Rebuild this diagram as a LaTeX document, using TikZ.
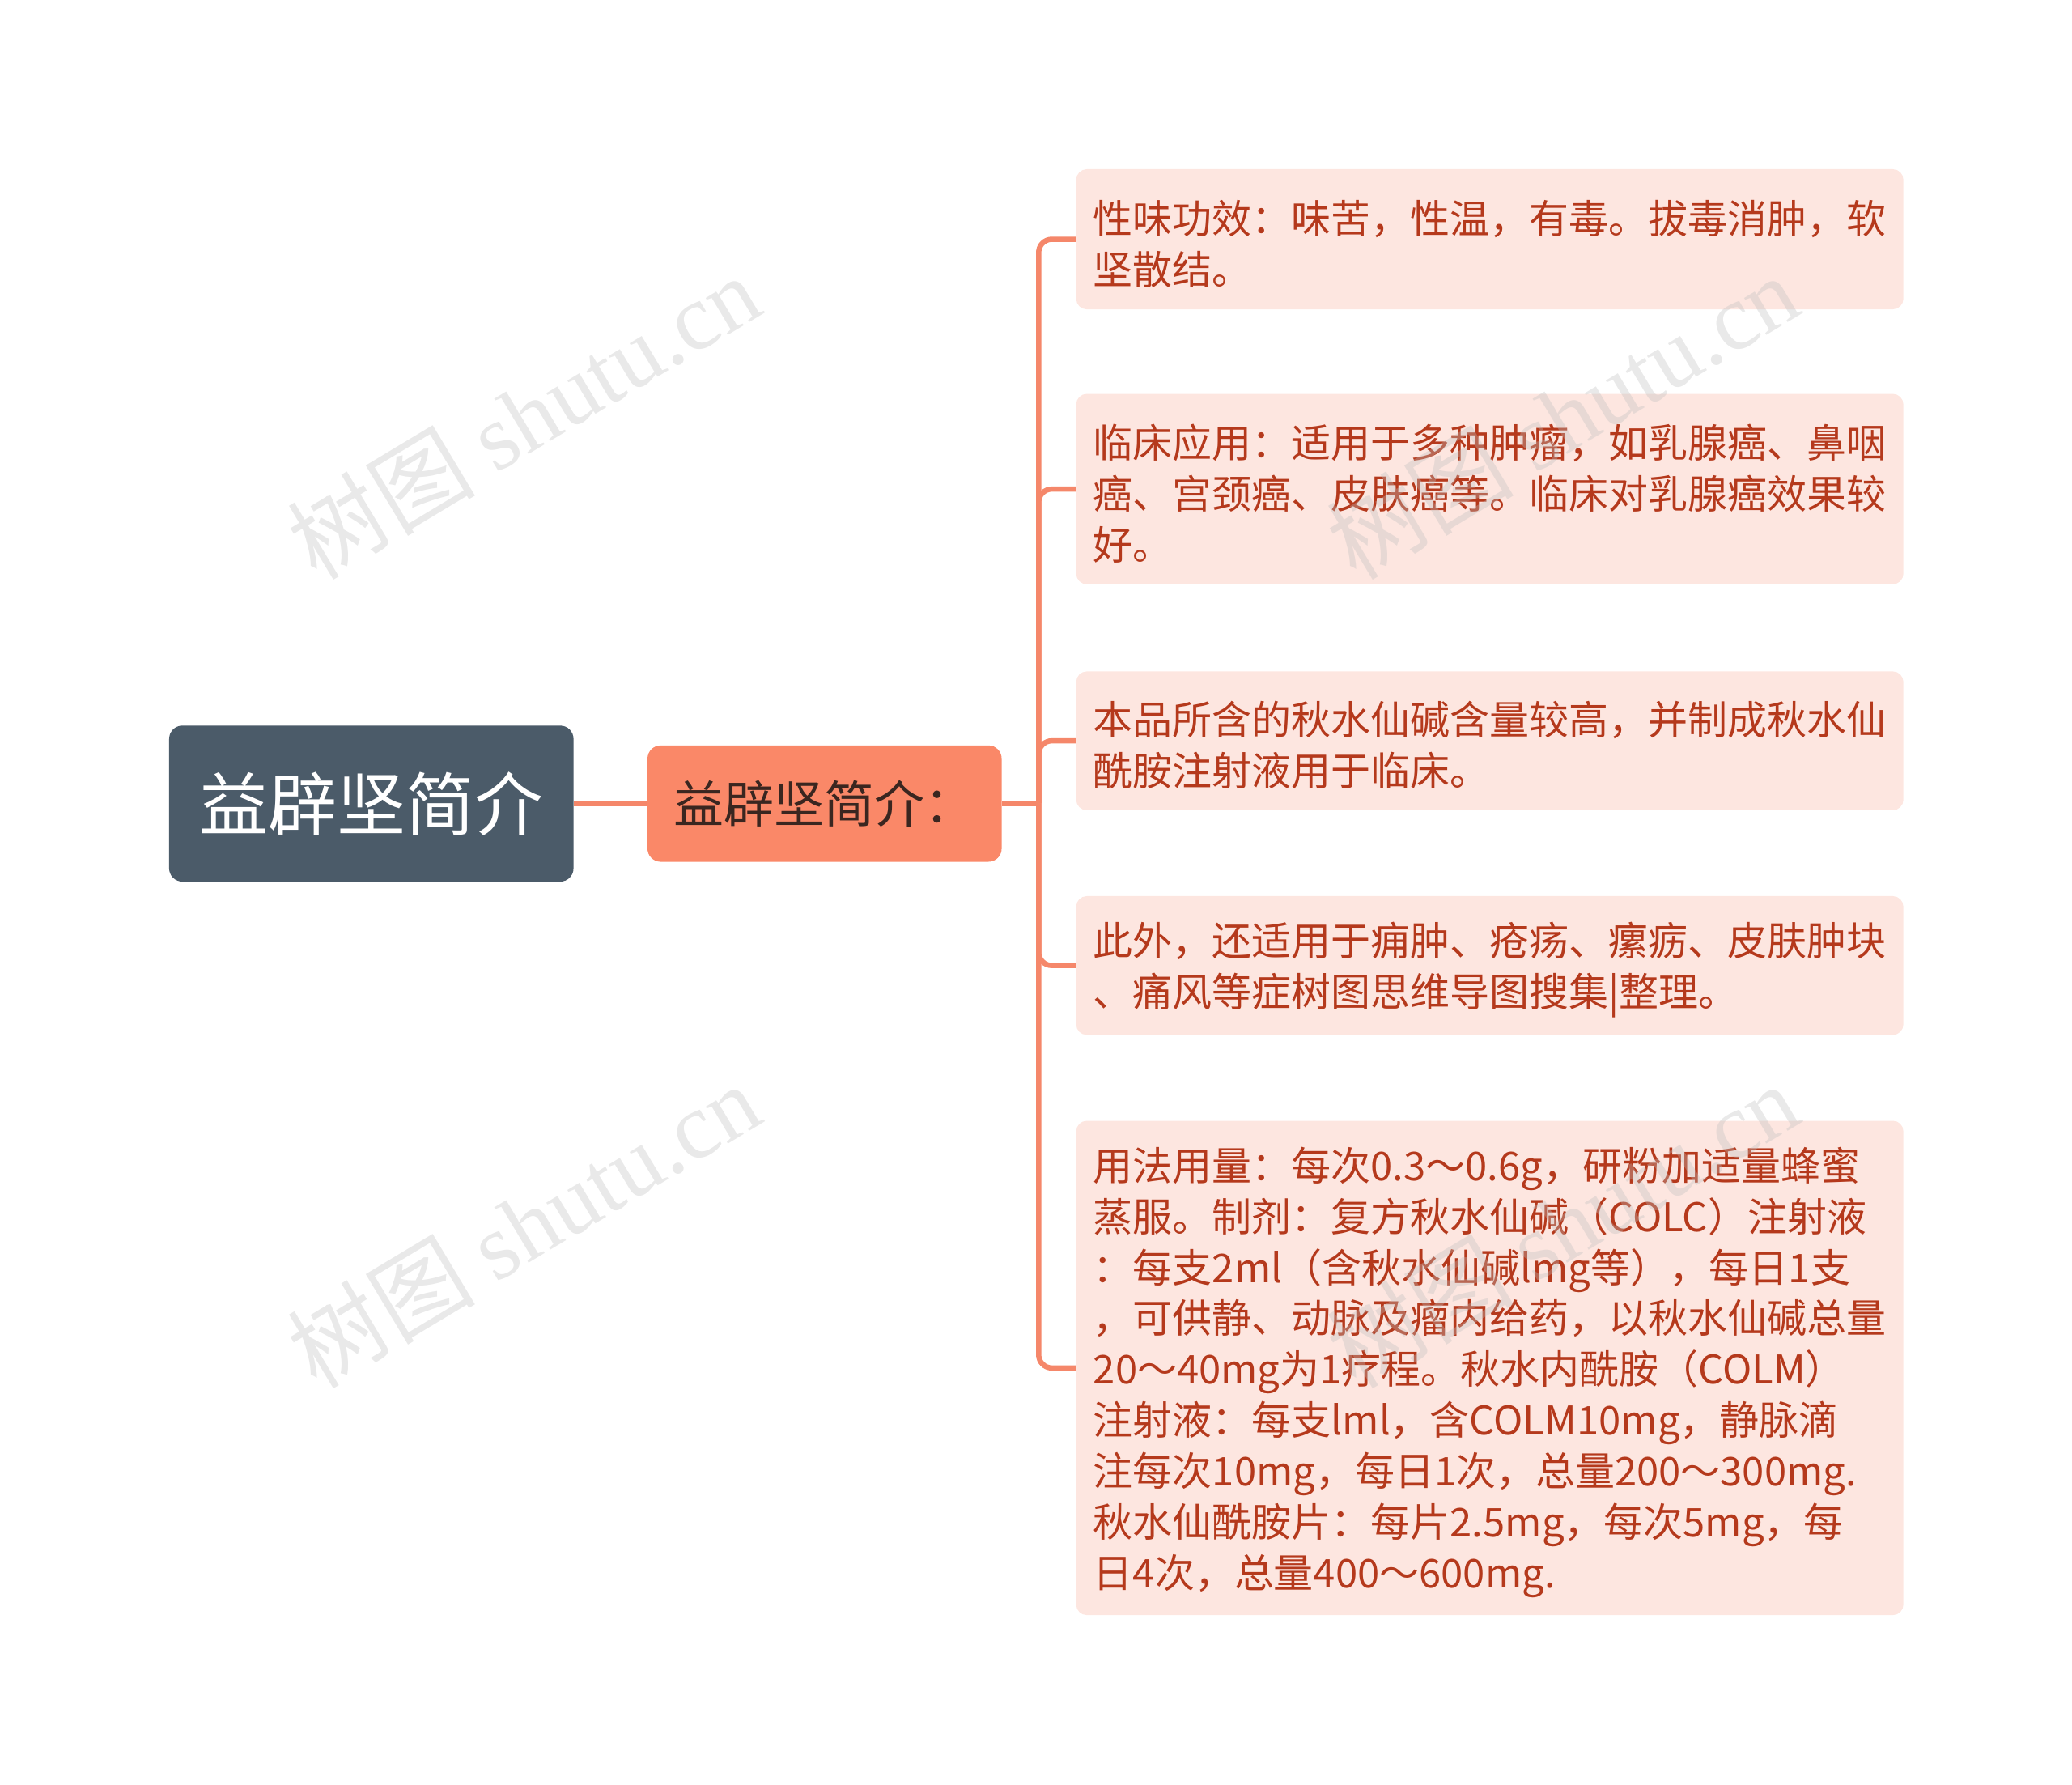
\documentclass[tikz,border=0pt]{standalone}
\usepackage{fontspec}
\setmainfont{Noto Sans CJK SC}
\newfontfamily\wmfont{Liberation Serif}
\usetikzlibrary{positioning}

\definecolor{rootfill}{HTML}{4B5B69}
\definecolor{subfill}{HTML}{FA8868}
\definecolor{subtext}{HTML}{3A2620}
\definecolor{leaffill}{HTML}{FDE6E0}
\definecolor{leaftext}{HTML}{B5391C}
\definecolor{linkcol}{HTML}{F5876A}

\begin{document}
\begin{tikzpicture}[x=0.5pt, y=-0.5pt,
	rootbox/.style={fill=rootfill, rounded corners=5pt, text=white, inner sep=0pt,
		minimum width=153pt, minimum height=59pt, font=\fontsize{26pt}{30pt}\selectfont},
	subbox/.style={fill=subfill, rounded corners=5pt, text=subtext, inner sep=0pt,
		minimum width=134pt, minimum height=44pt, font=\fontsize{19pt}{22pt}\selectfont},
	leafbox/.style={fill=leaffill, rounded corners=4pt, text=leaftext, anchor=west,
		align=left, text width=300pt, inner xsep=6.5pt, inner ysep=2pt,
		font=\fontsize{15pt}{19.25pt}\selectfont,
		execute at begin node={\rule{0pt}{16pt}}},
	link/.style={draw=linkcol, line width=2pt},
	wmark/.style={text=gray!50, opacity=0.35, rotate=31, inner sep=0pt,
		font=\fontsize{35.5pt}{38pt}\selectfont}
]

	\useasboundingbox (0,0) rectangle (1568,1350.5);

	\node[rootbox] (root) at (281,608) {益辟坚简介};
	\node[subbox] (sub) at (624,608) {益辟坚简介：};

	% schede
	\node[leafbox, minimum height=53pt] (use) at (814,181)
		{性味功效：味苦，性温，有毒。拔毒消肿，软\\坚散结。};
	\node[leafbox, minimum height=72pt] (clin) at (814,370)
		{临床应用：适用于多种肿瘤，如乳腺癌、鼻咽\\癌、宫颈癌、皮肤癌等。临床对乳腺癌效果较\\好。};
	\node[leafbox, minimum height=52.5pt] (drug) at (814,560.5)
		{本品所含的秋水仙碱含量较高，并制成秋水仙\\酰胺注射液用于临床。};
	\node[leafbox, minimum height=52.5pt] (other) at (814,730.5)
		{此外，还适用于痈肿、疮疡、瘰疬、皮肤肿块\\、痛风等症树图思维导图搜集|整理。};
	\node[leafbox, minimum height=187pt] (dose) at (814,1035)
		{用法用量：每次0.3～0.6g，研粉加适量蜂蜜\\
		蒸服。制剂：复方秋水仙碱（COLC）注射液\\
		：每支2ml（含秋水仙碱lmg等），每日1支\\
		，可供静、动脉及瘤内给药，以秋水仙碱总量\\
		20～40mg为1疗程。秋水内酰胺（COLM）\\
		注射液：每支lml，含COLM10mg，静脉滴\\
		注每次10mg，每日1次，总量200～300mg.\\
		秋水仙酰胺片：每片2.5mg，每次5mg，每\\
		日4次，总量400～600mg.};

	% collegamenti
	\coordinate (fork) at (786,608);
	\draw[link] (root) -- (sub);
	\draw[link] (sub) -- (fork);
	\foreach \leaf in {use,clin,drug,other,dose}
		\draw[link, rounded corners=5pt] (fork) |- (\leaf.west);

	% filigrana
	\node[wmark] (wmtl) at (396,315) {树图 {\wmfont shutu.cn}};
	\node[wmark] (wmbl) at (396,927) {树图 {\wmfont shutu.cn}};
	\node[wmark] (wmtr) at (1182,315) {树图 {\wmfont shutu.cn}};
	\node[wmark] (wmbr) at (1182,927) {树图 {\wmfont shutu.cn}};

\end{tikzpicture}
\end{document}
